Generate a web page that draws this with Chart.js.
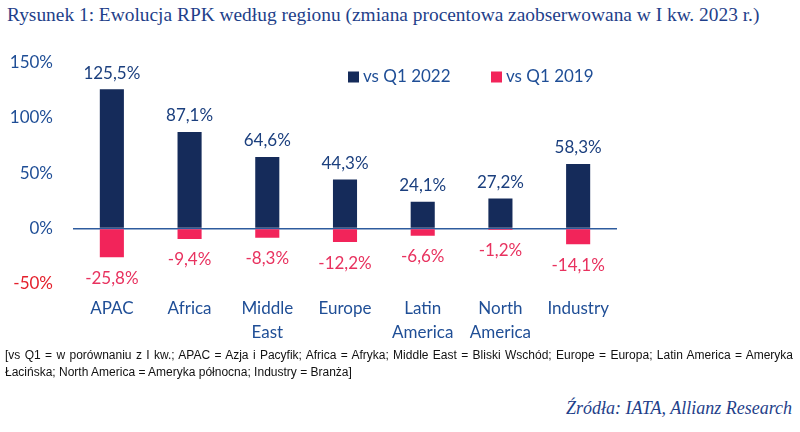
<!DOCTYPE html>
<html>
<head>
<meta charset="utf-8">
<script src="https://cdn.jsdelivr.net/npm/chart.js@4.4.1/dist/chart.umd.min.js"></script>
<style>
  html, body { margin: 0; padding: 0; background: #fff; }
  body { width: 800px; height: 432px; position: relative; overflow: hidden; }
  #title {
    position: absolute; left: 7px; top: 4px; white-space: nowrap;
    font-family: "Liberation Serif", "DejaVu Serif", serif; font-size: 19.4px; color: #1f3f8a;
  }
  #wrap { position: absolute; left: 0; top: 32px; width: 640px; height: 319px; }
  #note {
    position: absolute; left: 5px; top: 347px; width: 788px;
    font-family: "Liberation Sans", Arial, sans-serif; font-size: 12px; line-height: 17px;
    color: #111; text-align: justify; text-align-last: left;
  }
  #source {
    position: absolute; right: 8px; top: 398px; white-space: nowrap;
    font-family: "Liberation Serif", serif; font-style: italic; font-size: 18px; color: #1f3f8a;
  }
</style>
</head>
<body>
<div id="title">Rysunek 1: Ewolucja RPK według regionu (zmiana procentowa zaobserwowana w I kw. 2023 r.)</div>
<div id="wrap"><canvas id="rpkChart"></canvas></div>
<div id="note">[vs Q1 = w porównaniu z I kw.; APAC = Azja i Pacyfik; Africa = Afryka; Middle East = Bliski Wschód; Europe = Europa; Latin America = Ameryka Łacińska; North America = Ameryka północna; Industry = Branża]</div>
<div id="source">Źródła: IATA, Allianz Research</div>

<script>
// ---- data ----
const regions   = ["APAC", "Africa", ["Middle", "East"], "Europe", ["Latin", "America"], ["North", "America"], "Industry"];
const vs2022    = [125.5, 87.1, 64.6, 44.3, 24.1, 27.2, 58.3];
const vs2019    = [-25.8, -9.4, -8.3, -12.2, -6.6, -1.2, -14.1];
const yTicks    = [-50, 0, 50, 100, 150];

const NAVY   = "#152b5a";
const PINK   = "#f2245a";
const BLUE   = "#1f4e96";
const FONT   = "Lato, 'Open Sans', sans-serif";

const fmt = v => v.toFixed(1).replace(".", ",") + "%";

// value labels above / below bars
const valueLabels = {
  id: "valueLabels",
  afterDatasetsDraw(chart) {
    const ctx = chart.ctx;
    ctx.save();
    ctx.font = "17px " + FONT;
    ctx.textAlign = "center";
    ctx.textBaseline = "middle";
    chart.data.datasets.forEach((ds, i) => {
      chart.getDatasetMeta(i).data.forEach((bar, j) => {
        const v = ds.data[j];
        ctx.fillStyle = v >= 0 ? "#1b3f7e" : "#e8325f";
        ctx.fillText(fmt(v), bar.x, v >= 0 ? bar.y - 16 : bar.y + 21);
      });
    });
    ctx.restore();
  }
};

// legend drawn inside the plot, top right
const innerLegend = {
  id: "innerLegend",
  afterDraw(chart) {
    const ctx = chart.ctx;
    const spots = [348, 491];
    ctx.save();
    ctx.font = "17px " + FONT;
    ctx.textBaseline = "middle";
    chart.data.datasets.forEach((ds, i) => {
      const x = spots[i], y = 45;
      ctx.fillStyle = ds.backgroundColor;
      ctx.fillRect(x, y - 5.5, 11, 11);
      ctx.fillStyle = BLUE;
      ctx.fillText(ds.label, x + 15, y);
    });
    ctx.restore();
  }
};

new Chart(document.getElementById("rpkChart"), {
  type: "bar",
  data: {
    labels: regions,
    datasets: [
      { label: "vs Q1 2022", data: vs2022, backgroundColor: NAVY },
      { label: "vs Q1 2019", data: vs2019, backgroundColor: PINK }
    ]
  },
  options: {
    responsive: true,
    maintainAspectRatio: false,
    animation: false,
    barPercentage: 1,
    categoryPercentage: 0.31,
    layout: { padding: { top: 8, right: 23, bottom: 0, left: 0 } },
    plugins: { legend: { display: false }, tooltip: { enabled: false } },
    scales: {
      x: {
        stacked: true,
        grid: { display: false },
        border: { display: false },
        ticks: { color: BLUE, font: { family: FONT, size: 17, lineHeight: 1.4 }, padding: 5, maxRotation: 0, autoSkip: false },
        afterFit: s => { s.height = 67; }
      },
      y: {
        stacked: true,
        min: -50,
        max: 150,
        z: 1,
        afterBuildTicks: s => { s.ticks = yTicks.map(v => ({ value: v })); },
        afterFit: s => { s.width = 73; },
        grid: {
          drawTicks: false,
          lineWidth: 1.5,
          color: c => (c.tick && c.tick.value === 0) ? "#2e5c9e" : "transparent"
        },
        border: { display: false },
        ticks: {
          padding: 20,
          font: { family: FONT, size: 17 },
          color: c => c.tick.value < 0 ? "#e4202c" : BLUE,
          callback: v => v + "%"
        }
      }
    }
  },
  plugins: [valueLabels, innerLegend]
});
</script>
</body>
</html>
